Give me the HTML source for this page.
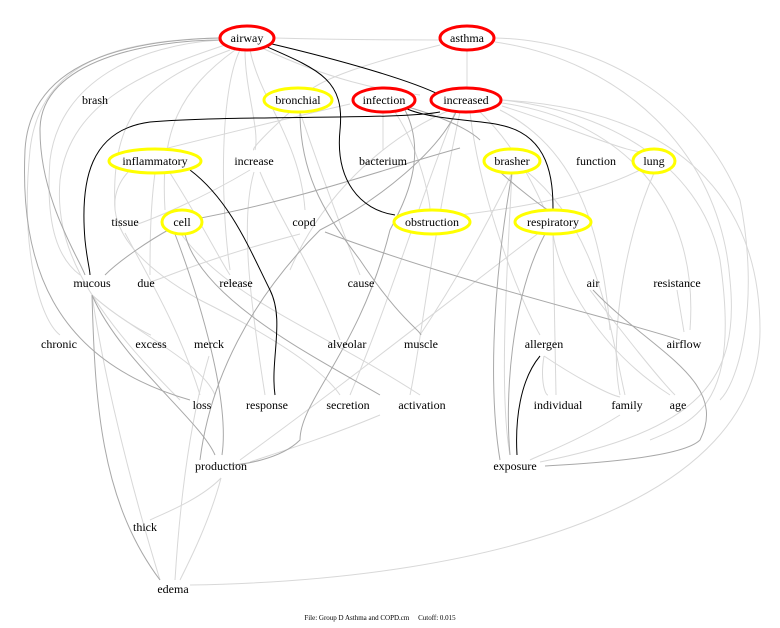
<!DOCTYPE html>
<html><head><style>
html,body{margin:0;padding:0;background:#fff;}
svg{display:block;}
text{font-family:"Liberation Serif",serif;font-size:12px;fill:#000;text-anchor:middle;}
</style></head><body>
<svg width="780" height="628" viewBox="0 0 780 628" xmlns="http://www.w3.org/2000/svg">
<g fill="none" stroke="#d8d8d8" stroke-width="1">
<path d="M220,38 C120,40 40,60 30,150 C20,250 40,320 60,335"/>
<path d="M220,40 C140,45 60,80 50,160 C45,230 60,260 80,275"/>
<path d="M225,45 C150,70 70,100 60,180 C55,240 80,300 180,400"/>
<path d="M230,50 C150,80 110,110 115,210"/>
<path d="M235,50 C180,90 160,130 165,210"/>
<path d="M240,50 C220,90 220,200 230,270"/>
<path d="M245,50 C245,90 260,130 255,150"/>
<path d="M250,50 C260,100 300,140 305,210"/>
<path d="M262,48 C330,80 380,90 420,95"/>
<path d="M275,38 C350,40 420,40 440,40"/>
<path d="M495,38 C600,40 700,100 740,200 C760,300 740,380 720,400"/>
<path d="M495,42 C620,60 720,150 730,280 C740,380 700,430 540,462"/>
<path d="M467,50 L467,88"/>
<path d="M440,45 C380,60 330,75 310,90"/>
<path d="M502,100 C600,110 700,160 720,260 C740,400 700,420 650,440"/>
<path d="M502,103 C620,120 700,200 690,330"/>
<path d="M502,106 C580,130 640,160 650,150"/>
<path d="M500,110 C560,140 600,200 610,330"/>
<path d="M502,100 C680,110 760,200 760,330 C760,500 500,580 190,585"/>
<path d="M470,112 C480,200 520,300 540,335"/>
<path d="M480,112 C520,150 540,200 545,210"/>
<path d="M455,112 C420,200 390,300 350,395"/>
<path d="M460,112 C430,250 420,350 410,395"/>
<path d="M450,110 C380,140 320,200 290,270"/>
<path d="M395,112 C420,150 430,200 430,210"/>
<path d="M383,112 L383,150"/>
<path d="M350,104 C280,120 200,140 160,150"/>
<path d="M290,112 C270,130 250,150 254,150"/>
<path d="M300,112 C330,200 350,250 360,275"/>
<path d="M155,173 C150,210 150,250 150,275"/>
<path d="M170,173 C200,220 220,260 230,275"/>
<path d="M130,170 C100,200 110,250 200,300 C300,350 330,380 340,395"/>
<path d="M254,172 C240,220 250,300 265,395"/>
<path d="M260,172 C280,220 310,260 340,340"/>
<path d="M250,170 C200,200 150,220 135,225"/>
<path d="M512,173 C505,300 500,400 510,455"/>
<path d="M512,173 C470,260 430,320 420,335"/>
<path d="M525,170 C600,230 610,330 625,395"/>
<path d="M654,173 C620,250 610,350 620,395"/>
<path d="M640,170 C580,200 500,210 460,215"/>
<path d="M553,234 C560,280 600,350 670,395"/>
<path d="M553,234 L556,395"/>
<path d="M540,232 C450,300 350,380 240,460"/>
<path d="M590,290 C620,330 660,380 675,395"/>
<path d="M677,290 L684,332"/>
<path d="M92,295 C100,350 120,450 160,580"/>
<path d="M92,295 C130,330 200,360 215,395"/>
<path d="M92,295 C120,320 150,335 151,335"/>
<path d="M209,356 C190,420 180,500 175,580"/>
<path d="M221,478 C210,520 190,560 180,580"/>
<path d="M221,478 C200,500 160,515 150,520"/>
<path d="M380,415 C320,440 270,455 250,462"/>
<path d="M544,356 C540,380 545,395 548,395"/>
<path d="M544,356 C580,380 610,395 620,397"/>
<path d="M620,415 C580,440 540,455 530,460"/>
<path d="M300,234 C200,260 160,280 150,282"/>
<path d="M125,233 C150,280 180,330 200,395"/>
<path d="M181,234 C230,300 320,330 420,395"/>
</g>
<g fill="none" stroke="#a8a8a8" stroke-width="1">
<path d="M220,38 C130,40 30,60 25,150 C20,260 50,360 190,400"/>
<path d="M222,40 C150,40 40,60 40,130 C40,200 80,260 85,275"/>
<path d="M300,112 C300,180 330,220 360,260 C400,320 420,330 421,335"/>
<path d="M175,234 C200,300 230,400 222,455"/>
<path d="M185,234 C200,300 320,360 380,395"/>
<path d="M170,229 C150,240 120,260 105,275"/>
<path d="M325,232 C450,280 620,320 680,340"/>
<path d="M512,173 C490,300 490,400 500,460"/>
<path d="M545,234 C510,300 505,400 510,455"/>
<path d="M457,110 C440,150 380,200 320,230 C250,300 210,380 200,460"/>
<path d="M405,110 C430,160 400,210 390,230 C360,350 300,400 300,440 C280,460 240,465 230,465"/>
<path d="M92,295 C120,360 200,420 215,455"/>
<path d="M92,295 C95,400 100,500 160,580"/>
<path d="M593,290 C650,350 730,380 700,440 C680,460 560,465 545,466"/>
<path d="M190,220 C300,200 380,170 460,148"/>
<path d="M500,172 C520,190 540,205 548,210"/>
<path d="M400,105 C440,115 470,130 480,140"/>
</g>
<g fill="none" stroke="#000" stroke-width="1">
<path d="M272,44 C340,60 410,80 440,95"/>
<path d="M265,46 C320,70 345,80 340,130 C335,180 360,210 395,215"/>
<path d="M440,112 C400,120 230,115 150,122 C90,130 80,180 85,240 C87,260 90,270 90,275"/>
<path d="M405,108 C430,120 480,120 500,125 C550,135 553,180 553,210"/>
<path d="M190,170 C230,200 250,250 270,290 C285,320 270,360 275,395"/>
<path d="M540,356 C520,380 515,420 517,455"/>
</g>
<g fill="#fff" stroke-width="3">
<ellipse cx="247" cy="38" rx="27" ry="12" stroke="#f00"/>
<ellipse cx="467" cy="38" rx="27" ry="12" stroke="#f00"/>
<ellipse cx="298" cy="100" rx="34" ry="12" stroke="#ff0"/>
<ellipse cx="384" cy="100" rx="31" ry="12" stroke="#f00"/>
<ellipse cx="466" cy="100" rx="35" ry="12" stroke="#f00"/>
<ellipse cx="155" cy="161" rx="46" ry="12" stroke="#ff0"/>
<ellipse cx="512" cy="161" rx="28" ry="12" stroke="#ff0"/>
<ellipse cx="654" cy="161" rx="21" ry="12" stroke="#ff0"/>
<ellipse cx="182" cy="222" rx="20" ry="12" stroke="#ff0"/>
<ellipse cx="432" cy="222" rx="38" ry="12" stroke="#ff0"/>
<ellipse cx="553" cy="222" rx="38" ry="12" stroke="#ff0"/>
</g>
<g>
<text x="247" y="42">airway</text><text x="467" y="42">asthma</text>
<text x="95" y="104">brash</text><text x="298" y="104">bronchial</text><text x="384" y="104">infection</text><text x="466" y="104">increased</text>
<text x="155" y="165">inflammatory</text><text x="254" y="165">increase</text><text x="383" y="165">bacterium</text><text x="512" y="165">brasher</text><text x="596" y="165">function</text><text x="654" y="165">lung</text>
<text x="125" y="226">tissue</text><text x="182" y="226">cell</text><text x="304" y="226">copd</text><text x="432" y="226">obstruction</text><text x="553" y="226">respiratory</text>
<text x="92" y="287">mucous</text><text x="146" y="287">due</text><text x="236" y="287">release</text><text x="361" y="287">cause</text><text x="593" y="287">air</text><text x="677" y="287">resistance</text>
<text x="59" y="348">chronic</text><text x="151" y="348">excess</text><text x="209" y="348">merck</text><text x="347" y="348">alveolar</text><text x="421" y="348">muscle</text><text x="544" y="348">allergen</text><text x="684" y="348">airflow</text>
<text x="202" y="409">loss</text><text x="267" y="409">response</text><text x="348" y="409">secretion</text><text x="422" y="409">activation</text><text x="558" y="409">individual</text><text x="627" y="409">family</text><text x="678" y="409">age</text>
<text x="221" y="470">production</text><text x="515" y="470">exposure</text>
<text x="145" y="531">thick</text><text x="173" y="593">edema</text>
<text x="380" y="620" style="font-size:7px">File: Group D Asthma and COPD.cm &#160;&#160;&#160;&#160;Cutoff: 0.015</text>
</g>
</svg>
</body></html>
